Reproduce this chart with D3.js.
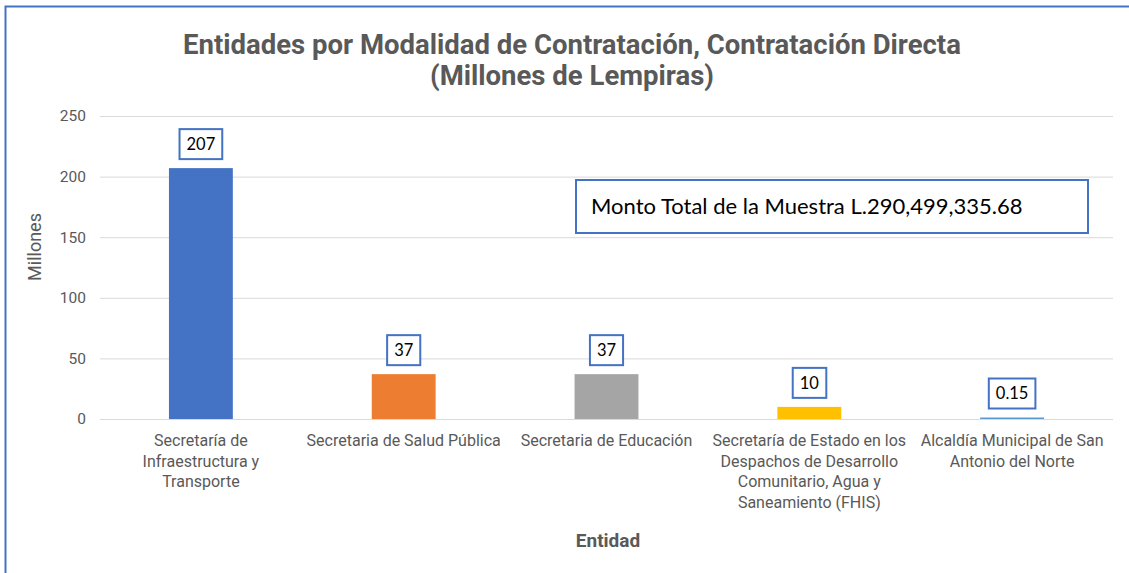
<!DOCTYPE html>
<html>
<head>
<meta charset="utf-8">
<script src="https://cdn.jsdelivr.net/npm/d3@7"></script>
<style>
  html, body { margin: 0; padding: 0; background: #fff; }
  svg { display: block; }
</style>
</head>
<body>
<div id="chart"></div>
<script>
// Data
var entidades = [
  ["Secretaría de", "Infraestructura y", "Transporte"],
  ["Secretaria de Salud Pública"],
  ["Secretaria de Educación"],
  ["Secretaría de Estado en los", "Despachos de Desarrollo", "Comunitario, Agua y", "Saneamiento (FHIS)"],
  ["Alcaldía Municipal de San", "Antonio del Norte"]
];
var montos = [207, 37, 37, 10, 0.15];
var etiquetas = ["207", "37", "37", "10", "0.15"];
var colores = ["#4472C4", "#ED7D31", "#A5A5A5", "#FFC000", "#5B9BD5"];
var yTicks = [0, 50, 100, 150, 200, 250];

var width = 1129, height = 573;
var margin = {left: 100, top: 116, right: 16, bottom: 154};

var svg = d3.select("#chart").append("svg")
            .attr("width", width)
            .attr("height", height);

// outer frame
svg.append("rect")
   .attr("x", 5.5).attr("y", 6.5)
   .attr("width", width + 10).attr("height", height + 10)
   .attr("fill", "none")
   .attr("stroke", "#4472C4")
   .attr("stroke-width", 2);

var x = d3.scaleBand()
          .domain(d3.range(montos.length))
          .range([margin.left, width - margin.right])
          .paddingInner(0.685)
          .paddingOuter(0.34);

var y = d3.scaleLinear()
          .domain([0, 250])
          .range([height - margin.bottom, margin.top]);

// gridlines
var grid = svg.append("g")
   .attr("transform", "translate(" + margin.left + ",0)")
   .call(d3.axisLeft(y).tickValues(yTicks).tickSize(-(width - margin.right - margin.left)).tickFormat(""));
grid.select(".domain").remove();
grid.selectAll("line").attr("stroke", "#d9d9d9").attr("stroke-width", 1);

// y tick labels
var yAxis = svg.append("g")
   .attr("transform", "translate(" + (margin.left - 14) + ",0)")
   .call(d3.axisLeft(y).tickValues(yTicks).tickSize(0).tickPadding(0));
yAxis.select(".domain").remove();
yAxis.selectAll("text")
     .attr("fill", "#595959")
     .style("font-family", "Roboto, 'Noto Sans', sans-serif")
     .style("font-size", "15.5px");

// bars
svg.selectAll(".bar")
   .data(montos)
   .enter().append("rect")
   .attr("class", "bar")
   .attr("x", function(d, i) { return x(i); })
   .attr("width", x.bandwidth())
   .attr("y", function(d) { return Math.min(y(d), y(0) - 1.5); })
   .attr("height", function(d) { return Math.max(y(0) - y(d), 1.5); })
   .attr("fill", function(d, i) { return colores[i]; });

// data labels with boxes
var lab = svg.selectAll(".lab")
   .data(montos)
   .enter().append("g")
   .attr("class", "lab")
   .attr("transform", function(d, i) {
       var top = Math.min(y(d), y(0) - 1.5);
       return "translate(" + (x(i) + x.bandwidth() / 2) + "," + (top - 24) + ")";
   });
lab.append("text")
   .attr("text-anchor", "middle")
   .attr("dy", "0.35em")
   .attr("fill", "#000")
   .style("font-family", "Lato, 'Open Sans', sans-serif")
   .style("font-size", "16.5px")
   .text(function(d, i) { return etiquetas[i]; });
lab.each(function() {
    var g = d3.select(this);
    var bb = g.select("text").node().getBBox();
    g.insert("rect", "text")
     .attr("x", bb.x - 7).attr("y", -15)
     .attr("width", bb.width + 14).attr("height", 30)
     .attr("fill", "#fff")
     .attr("stroke", "#4472C4")
     .attr("stroke-width", 2);
});

// category labels
var cat = svg.selectAll(".cat")
   .data(entidades)
   .enter().append("text")
   .attr("class", "cat")
   .attr("text-anchor", "middle")
   .attr("fill", "#595959")
   .style("font-family", "Roboto, 'Noto Sans', sans-serif")
   .style("font-size", "16px")
   .attr("transform", function(d, i) { return "translate(" + (x(i) + x.bandwidth() / 2) + ",446)"; });
cat.selectAll("tspan")
   .data(function(d) { return d; })
   .enter().append("tspan")
   .attr("x", 0)
   .attr("y", function(d, j) { return j * 20.5; })
   .text(function(d) { return d; });

// titles
var titulo = ["Entidades por Modalidad de Contratación, Contratación Directa", "(Millones de Lempiras)"];
svg.selectAll(".title")
   .data(titulo)
   .enter().append("text")
   .attr("class", "title")
   .attr("x", 572)
   .attr("y", function(d, i) { return 54 + i * 31; })
   .attr("text-anchor", "middle")
   .attr("fill", "#595959")
   .style("font-family", "Roboto, sans-serif")
   .style("font-weight", "bold")
   .style("font-size", "27.5px")
   .text(function(d) { return d; });

svg.append("text")
   .attr("x", 608).attr("y", 547)
   .attr("text-anchor", "middle")
   .attr("fill", "#595959")
   .style("font-family", "Roboto, sans-serif")
   .style("font-weight", "bold")
   .style("font-size", "19px")
   .text("Entidad");

svg.append("text")
   .attr("transform", "translate(41,247) rotate(-90)")
   .attr("text-anchor", "middle")
   .attr("fill", "#595959")
   .style("font-family", "Roboto, sans-serif")
   .style("font-size", "18px")
   .text("Millones");

// annotation box
var nota = svg.append("g");
nota.append("rect")
    .attr("x", 576).attr("y", 180)
    .attr("width", 512).attr("height", 53)
    .attr("fill", "#fff")
    .attr("stroke", "#4472C4")
    .attr("stroke-width", 2);
nota.append("text")
    .attr("x", 591).attr("y", 214)
    .attr("fill", "#000")
    .style("font-family", "Lato, 'Open Sans', sans-serif")
    .style("font-size", "22px")
    .text("Monto Total de la Muestra L.290,499,335.68");
</script>
</body>
</html>
